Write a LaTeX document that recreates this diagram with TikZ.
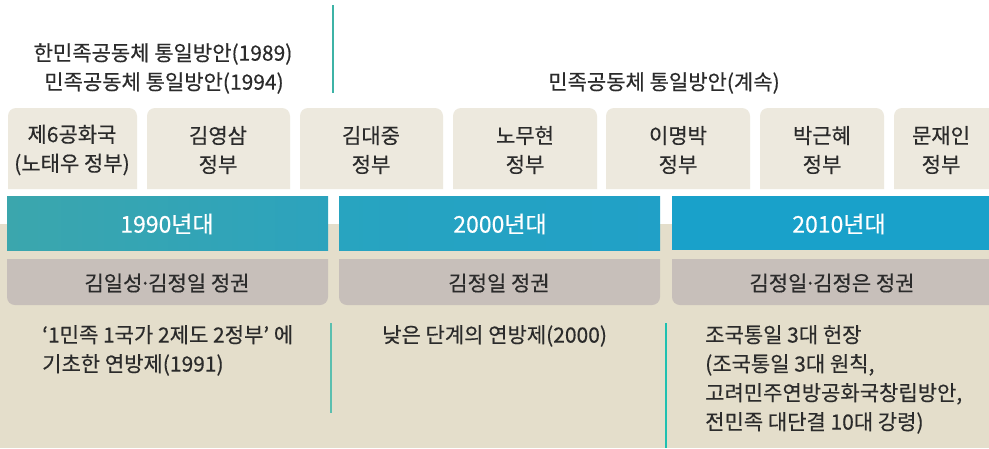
\documentclass[tikz,border=0pt]{standalone}
\usepackage{fontspec}
\setmainfont[FakeBold=0.35]{Noto Sans CJK KR}
\definecolor{txt}{HTML}{2B2B2B}
\definecolor{bgbeige}{HTML}{E4DECB}
\definecolor{govfill}{HTML}{EDE9DE}
\definecolor{regfill}{HTML}{C7BFBA}
\definecolor{decAl}{HTML}{3BA6AD}
\definecolor{decAr}{HTML}{2CA3BD}
\definecolor{decBl}{HTML}{28A4C0}
\definecolor{decBr}{HTML}{20A0C7}
\definecolor{decC}{HTML}{19A1CA}
\definecolor{lineA}{HTML}{5BBFAF}
\definecolor{lineB}{HTML}{1EC0B0}
\definecolor{lineTop}{HTML}{3DB3A6}
\newcommand{\mdot}{\kern-3pt·\kern-3pt}
\begin{document}
\begin{tikzpicture}[x=1pt,y=-1pt,
  every node/.style={inner sep=0pt, text=txt, font=\fontsize{21}{29}\selectfont},
  toptext/.style={align=center},
  govtext/.style={align=center},
  dectext/.style={text=white, font=\fontsize{23}{29}\selectfont},
  regtext/.style={},
  desctext/.style={align=left, anchor=north west},
  govshape/.style={fill=govfill, rounded corners=8pt},
  regshape/.style={fill=regfill, rounded corners=8pt},
  sepline/.style={line width=1.4pt}
]
\useasboundingbox (0,0) rectangle (989,448);
\clip (0,0) rectangle (989,448);
\fill[white] (0,0) rectangle (989,448);
\fill[bgbeige] (0,224) rectangle (989,448);

% top separator
\coordinate (ts) at (333,5);
\coordinate (te) at (333,93);
\draw[sepline, lineTop] (ts) -- (te);

% top texts
\node[toptext] (t1) at (163,54) {한민족공동체 통일방안(1989)};
\node[toptext] (t2) at (164,83) {민족공동체 통일방안(1994)};
\node[toptext] (t3) at (664,83) {민족공동체 통일방안(계속)};

% government boxes
\fill[govshape] (8,189) -- (8,108) -- (137,108) -- (137,189);
\fill[govshape] (147,189) -- (147,108) -- (290,108) -- (290,189);
\fill[govshape] (300,189) -- (300,108) -- (443,108) -- (443,189);
\fill[govshape] (453,189) -- (453,108) -- (597,108) -- (597,189);
\fill[govshape] (606,189) -- (606,108) -- (750,108) -- (750,189);
\fill[govshape] (760,189) -- (760,108) -- (884,108) -- (884,189);
\fill[govshape] (894,189) -- (894,108) -- (1004,108) -- (1004,189);

\node[govtext] (g1) at (72,150) {제6공화국\\(노태우 정부)};
\node[govtext] (g2) at (218,150) {김영삼\\정부};
\node[govtext] (g3) at (371,150) {김대중\\정부};
\node[govtext] (g4) at (525,150) {노무현\\정부};
\node[govtext] (g5) at (678,150) {이명박\\정부};
\node[govtext] (g6) at (822,150) {박근혜\\정부};
\node[govtext] (g7) at (941,150) {문재인\\정부};

% decade bars
\shade[left color=decAl, right color=decAr] (7,196) rectangle (328,250);
\shade[left color=decBl, right color=decBr] (339,196) rectangle (660,250);
\fill[decC] (672,196) rectangle (989,250);
\node[dectext] (d1) at (167,224) {1990년대};
\node[dectext] (d2) at (500,224) {2000년대};
\node[dectext] (d3) at (839,224) {2010년대};

% regime bars
\fill[regshape] (7,259) -- (7,305) -- (328,305) -- (328,259);
\fill[regshape] (339,259) -- (339,305) -- (660,305) -- (660,259);
\fill[regshape] (672,259) -- (672,305) -- (1004,305) -- (1004,259);
\node[regtext] (r1) at (167,283) {김일성\mdot 김정일 정권};
\node[regtext] (r2) at (499,283) {김정일 정권};
\node[regtext] (r3) at (832,283) {김정일\mdot 김정은 정권};

% descriptions
\node[desctext] (c1) at (42,325) {‘1민족 1국가 2제도 2정부’ 에\\기초한 연방제(1991)};
\node[desctext] (c2) at (382,325) {낮은 단계의 연방제(2000)};
\node[desctext] (c3) at (705,325) {조국통일 3대 헌장\\(조국통일 3대 원칙,\\고려민주연방공화국창립방안,\\전민족 대단결 10대 강령)};

% column separators
\coordinate (s1a) at (331,323);
\coordinate (s1b) at (331,413);
\coordinate (s2a) at (666,323);
\coordinate (s2b) at (666,448);
\draw[sepline, lineA] (s1a) -- (s1b);
\draw[sepline, lineB] (s2a) -- (s2b);
\end{tikzpicture}
\end{document}
